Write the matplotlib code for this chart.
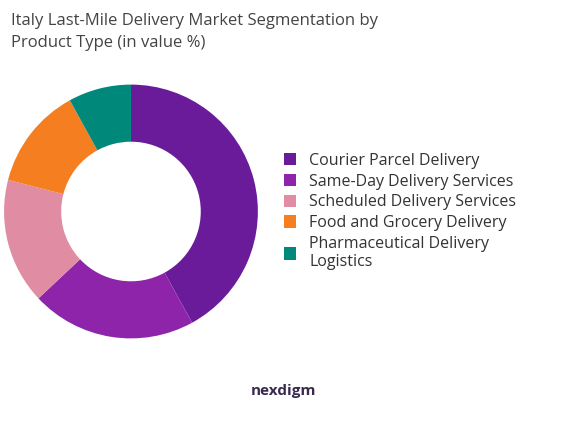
import matplotlib.pyplot as plt

labels = ["Courier Parcel Delivery", "Same-Day Delivery Services", "Scheduled Delivery Services",
          "Food and Grocery Delivery", "Pharmaceutical Delivery\nLogistics"]
values = [42, 21, 16, 13, 8]
colors = ["#6A1B9A", "#8E24AA", "#E08DA3", "#F57F20", "#00897B"]

fig = plt.figure(figsize=(5.67, 4.23), dpi=100)
ax = fig.add_axes([0.007, 0.2, 0.448, 0.6])
wedges, _ = ax.pie(values, colors=colors, startangle=90, counterclock=False,
                   wedgeprops=dict(width=0.45))
ax.set_aspect("equal")
ax.set_xlim(-1, 1)
ax.set_ylim(-1, 1)

fig.text(0.02, 0.97, "Italy Last-Mile Delivery Market Segmentation by\nProduct Type (in value %)",
         ha="left", va="top", color="#444444", family="Open Sans", fontsize=12, linespacing=1.5)

fig.legend(wedges, labels, loc="center left", bbox_to_anchor=(0.475, 0.5), frameon=False,
           handlelength=0.8, handleheight=0.8, labelspacing=0.3, handletextpad=0.8,
           prop={"family": "Open Sans", "size": 11.5}, labelcolor="#333333")

fig.text(0.5, 0.075, "nexdigm", ha="center", va="center", fontsize=11, color="#3a2a4f",
         family="Open Sans", weight="bold")

fig.savefig("out.png", dpi=100)
